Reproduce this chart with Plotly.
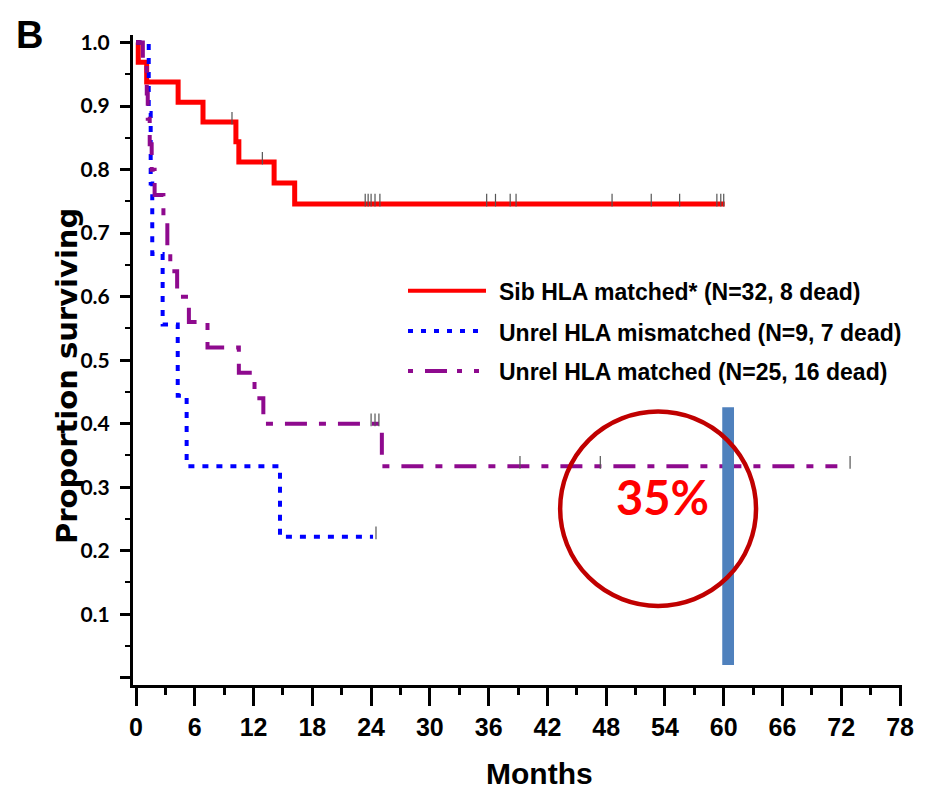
import plotly.graph_objects as go

# ---------------- data ----------------
sib_t = [0, 0.23, 1.09, 4.3, 6.84, 10.2, 10.5, 14.1, 16.2, 60.1]
sib_s = [1.0, 0.969, 0.938, 0.906, 0.875, 0.844, 0.812, 0.779, 0.746, 0.746]
sib_cens = [9.8, 12.9, 23.4, 23.7, 24.0, 24.4, 24.9, 35.8, 36.7, 38.2, 38.8,
            48.6, 52.6, 55.5, 59.3, 59.7, 60.0]

mm_t = [0, 1.3, 1.5, 1.66, 2.72, 4.26, 5.17, 14.7, 24.2]
mm_s = [1.0, 0.889, 0.778, 0.667, 0.556, 0.444, 0.333, 0.222, 0.222]
mm_cens = [24.5]

um_t = [0, 0.7, 1.1, 1.2, 1.4, 1.6, 1.9, 2.8, 3.2, 3.5, 4.2, 5.4, 7.3, 10.5,
        12.1, 13.0, 25.1, 71.6]
um_s = [1.0, 0.96, 0.92, 0.88, 0.84, 0.80, 0.76, 0.72, 0.68, 0.64, 0.60, 0.56,
        0.52, 0.48, 0.44, 0.40, 0.333, 0.333]
um_cens = [24.0, 24.4, 24.8, 39.2, 47.4, 72.9]

series_names = ["Sib HLA matched* (N=32, 8 dead)",
                "Unrel HLA mismatched (N=9, 7 dead)",
                "Unrel HLA matched (N=25, 16 dead)"]

x_ticks = list(range(0, 79, 6))
y_ticks = [0.0, 0.1, 0.2, 0.3, 0.4, 0.5, 0.6, 0.7, 0.8, 0.9, 1.0]
y_ticktext = ["", "0.1", "0.2", "0.3", "0.4", "0.5", "0.6", "0.7", "0.8", "0.9", "1.0"]

highlight_label = "35%"
highlight_bar = dict(x0=59.85, x1=61.05, y0=0.02, y1=0.426)
highlight_circle = dict(x0=43.3, x1=63.3, y0=0.113, y1=0.419)
highlight_text_pos = (53.7, 0.285)

# ---------------- styling ----------------
RED = "#FF0000"
BLUE = "#0000FF"
PURPLE = "#8E0A8E"
W, H = 928, 793
ML, MR, MT, MB = 133, 26, 35, 108
PW, PH = W - ML - MR, H - MT - MB


def px2paper(x, y):
    return (x - ML) / PW, (H - MB - y) / PH


def surv_at(ts, ss, t):
    val = ss[0]
    for ti, si in zip(ts, ss):
        if ti <= t:
            val = si
    return val


fig = go.Figure()

curves = [
    (sib_t, sib_s, sib_cens, RED, "solid", 5),
    (mm_t, mm_s, mm_cens, BLUE, "6px,8px", 4),
    (um_t, um_s, um_cens, PURPLE, "22px,12px,7px,12px", 4),
]
for (ts, ss, cens, col, dash, lw), name in zip(curves, series_names):
    fig.add_trace(go.Scatter(x=ts, y=ss, mode="lines", name=name,
                             line=dict(color=col, width=lw, dash=dash, shape="hv"),
                             showlegend=False))
    fig.add_trace(go.Scatter(x=cens, y=[surv_at(ts, ss, c) + 0.006 for c in cens],
                             mode="markers", showlegend=False, hoverinfo="skip",
                             marker=dict(symbol="line-ns", size=9,
                                         line=dict(width=1.2, color="#555555"))))

shapes = []
# highlight bar and circle
shapes.append(dict(type="rect", xref="x", yref="y", line=dict(width=0),
                   fillcolor="#4F81BD", **highlight_bar))
shapes.append(dict(type="circle", xref="x", yref="y",
                   line=dict(color="#C00000", width=4.5), **highlight_circle))

# manual legend
leg_rows = [(290.7, RED, "solid", 4), (331, BLUE, "5px,8px", 4),
            (371, PURPLE, "5px,12px,22px,10px,5px,12px", 4)]
annotations = []
for (yy, col, dash, lw), name in zip(leg_rows, series_names):
    x0, y0 = px2paper(408, yy)
    x1, _ = px2paper(486, yy)
    shapes.append(dict(type="line", xref="paper", yref="paper", x0=x0, x1=x1,
                       y0=y0, y1=y0, line=dict(color=col, width=lw, dash=dash)))
    tx, ty = px2paper(497, yy + 1.5)
    annotations.append(dict(xref="paper", yref="paper", x=tx, y=ty, text=name,
                            showarrow=False, xanchor="left", yanchor="middle",
                            font=dict(family="Liberation Sans, Arial", size=23,
                                      color="black", weight="bold")))

annotations.append(dict(xref="x", yref="y", x=highlight_text_pos[0],
                        y=highlight_text_pos[1], text=highlight_label,
                        showarrow=False, xanchor="center", yanchor="middle",
                        font=dict(family="Lato", size=47, color=RED, weight="bold")))

# panel letter
bx, by = px2paper(29, 35)
annotations.append(dict(xref="paper", yref="paper", x=bx, y=by, text="B",
                        showarrow=False, xanchor="center", yanchor="middle",
                        font=dict(family="Liberation Sans, Arial", size=38,
                                  color="black", weight="bold")))
# axis titles
tx, ty = px2paper(67, 376)
annotations.append(dict(xref="paper", yref="paper", x=tx, y=ty,
                        text="Proportion surviving", textangle=-90,
                        showarrow=False, xanchor="center", yanchor="middle",
                        font=dict(family="DejaVu Sans", size=29, color="black",
                                  weight="bold")))
tx, ty = px2paper(539, 773)
annotations.append(dict(xref="paper", yref="paper", x=tx, y=ty, text="Months",
                        showarrow=False, xanchor="center", yanchor="middle",
                        font=dict(family="Liberation Sans", size=30,
                                  color="black", weight="bold")))

fig.update_layout(
    width=W, height=H,
    margin=dict(l=ML, r=MR, t=MT, b=MB, pad=0),
    paper_bgcolor="white", plot_bgcolor="white",
    shapes=shapes, annotations=annotations,
    xaxis=dict(range=[-0.306, 78.2], tickvals=x_ticks, ticks="outside",
               ticklen=18, tickwidth=3, tickcolor="black",
               showline=True, linecolor="black", linewidth=3,
               showgrid=False, zeroline=False,
               ticklabelstandoff=0,
               tickfont=dict(family="Liberation Sans", size=25, color="black",
                             weight="bold"),
               minor=dict(dtick=3, ticks="outside", ticklen=7, tickwidth=3,
                          tickcolor="black", showgrid=False)),
    yaxis=dict(range=[-0.0115, 1.012], tickvals=y_ticks, ticktext=y_ticktext,
               ticks="outside", ticklen=10, tickwidth=3, tickcolor="black",
               showline=True, linecolor="black", linewidth=3,
               showgrid=False, zeroline=False,
               ticklabelstandoff=6,
               tickfont=dict(family="Lato", size=21, color="black", weight="bold"),
               minor=dict(dtick=0.05, ticks="outside", ticklen=5, tickwidth=2,
                          tickcolor="black", showgrid=False)),
)

fig.write_html("out.html")
